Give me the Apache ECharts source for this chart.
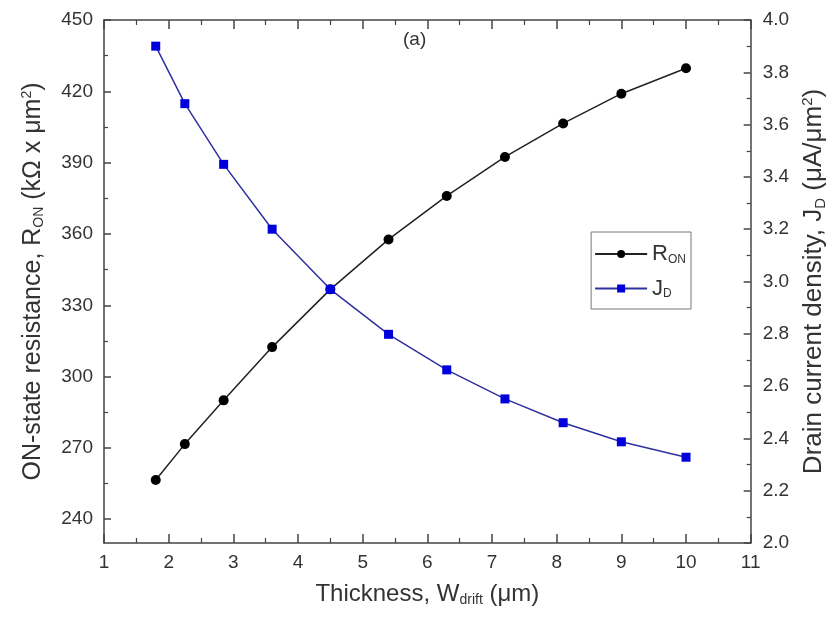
<!DOCTYPE html>
<html>
<head>
<meta charset="utf-8">
<script src="https://cdn.jsdelivr.net/npm/echarts@6/dist/echarts.min.js"></script>
<style>html,body{margin:0;padding:0;background:#fff;}#c{width:836px;height:619px;}</style>
</head>
<body>
<div id="c"></div>
<script>
var thickness = [1.8, 2.25, 2.85, 3.6, 4.5, 5.4, 6.3, 7.2, 8.1, 9.0, 10];
var ronValues = [256.5, 271.6, 290.0, 312.4, 336.7, 357.7, 376.0, 392.4, 406.5, 419.0, 429.7];
var jdValues = [3.90, 3.68, 3.448, 3.20, 2.97, 2.798, 2.662, 2.551, 2.46, 2.387, 2.328];
var leftLabels = [240, 270, 300, 330, 360, 390, 420, 450];
var leftMinorTicks = [255, 285, 315, 345, 375, 405, 435];

var FONT = 'Liberation Sans, Arial, sans-serif';
var AX = '#444';
var TXT = '#333';

var chart = echarts.init(document.getElementById('c'));
var ronData = thickness.map(function (x, i) { return [x, ronValues[i]]; });
var jdData = thickness.map(function (x, i) { return [x, jdValues[i]]; });

function sub(fs, pad) { return { fontSize: fs, fontFamily: FONT, color: TXT, verticalAlign: 'bottom', padding: [pad, 0, 0, 0] }; }
function sup(fs, pad) { return { fontSize: fs, fontFamily: FONT, color: TXT, verticalAlign: 'top', padding: [0, 0, pad, 0] }; }
function nm(fs) { return { fontSize: fs, fontFamily: FONT, color: TXT }; }

chart.setOption({
  animation: false,
  backgroundColor: '#fff',
  textStyle: { fontFamily: FONT },
  grid: { left: 104, right: 84, top: 20, bottom: 76, containLabel: false },
  graphic: [{
    type: 'text', left: 403, top: 30,
    style: { text: '(a)', fontSize: 19, fontFamily: FONT, fill: TXT }
  }],
  legend: {
    right: 145, top: 232,
    orient: 'vertical',
    itemWidth: 52, itemHeight: 10, itemGap: 12,
    borderColor: '#777', borderWidth: 1, padding: [11, 5, 9, 3],
    backgroundColor: '#fff',
    data: ['RON', 'JD'],
    formatter: function (n) { return n === 'RON' ? '{m|R}{s|ON}' : '{m|J}{s|D}'; },
    textStyle: {
      rich: {
        m: { fontSize: 22, fontFamily: FONT, color: TXT },
        s: { fontSize: 12, fontFamily: FONT, color: TXT, verticalAlign: 'bottom', padding: [11, 0, 0, 0] }
      }
    }
  },
  xAxis: [{
    type: 'value', min: 1, max: 11, interval: 1,
    name: '{n|Thickness, W}{s|drift}{n| (μm)}',
    nameLocation: 'middle', nameGap: 38,
    nameTextStyle: { rich: { n: nm(24), s: sub(14, 12) } },
    axisLine: { show: true, lineStyle: { color: AX, width: 1.5 } },
    axisTick: { show: true, inside: true, length: 9, lineStyle: { color: AX, width: 1.5 } },
    minorTick: { show: true, splitNumber: 2, length: 5, lineStyle: { color: AX, width: 1.2 } },
    axisLabel: { fontSize: 19, color: TXT, fontFamily: FONT, margin: 10 },
    splitLine: { show: false }
  }, {
    type: 'value', min: 1, max: 11, interval: 1, position: 'top',
    axisLine: { show: true, lineStyle: { color: AX, width: 1.5 } },
    axisTick: { show: true, inside: true, length: 9, lineStyle: { color: AX, width: 1.5 } },
    minorTick: { show: true, splitNumber: 2, length: 5, lineStyle: { color: AX, width: 1.2 } },
    axisLabel: { show: false },
    splitLine: { show: false }
  }],
  yAxis: [{
    type: 'value', min: 230, max: 450, position: 'left',
    name: '{n|ON-state resistance, R}{s|ON}{n| (kΩ x μm}{p|2}{n|)}',
    nameLocation: 'middle', nameGap: 58, nameRotate: 90,
    nameTextStyle: { rich: { n: nm(25), s: sub(14, 12), p: sup(14, 12) } },
    axisLine: { show: true, lineStyle: { color: AX, width: 1.5 } },
    axisTick: { show: true, inside: true, length: 7, customValues: leftLabels, lineStyle: { color: AX, width: 1.5 } },
    axisLabel: { fontSize: 19, color: TXT, fontFamily: FONT, margin: 11, customValues: leftLabels },
    splitLine: { show: false }
  }, {
    type: 'value', min: 2.0, max: 4.0, interval: 0.2, position: 'right',
    name: '{n|Drain current density, J}{s|D}{n| (μA/μm}{p|2}{n|)}',
    nameLocation: 'middle', nameGap: 49, nameRotate: 90,
    nameTextStyle: { rich: { n: nm(26), s: sub(15, 13), p: sup(15, 13) } },
    axisLine: { show: true, lineStyle: { color: AX, width: 1.5 } },
    axisTick: { show: true, inside: true, length: 7, lineStyle: { color: AX, width: 1.5 } },
    minorTick: { show: true, splitNumber: 2, length: 4, lineStyle: { color: AX, width: 1.2 } },
    axisLabel: { fontSize: 19, color: TXT, fontFamily: FONT, margin: 12, formatter: function (v) { return v.toFixed(1); } },
    splitLine: { show: false }
  }, {
    type: 'value', min: 230, max: 450, position: 'left',
    axisLine: { show: false },
    axisTick: { show: true, inside: true, length: 4, customValues: leftMinorTicks, lineStyle: { color: AX, width: 1.2 } },
    axisLabel: { show: false, customValues: leftMinorTicks },
    splitLine: { show: false }
  }],
  series: [{
    name: 'RON', type: 'line', xAxisIndex: 0, yAxisIndex: 0,
    data: ronData,
    symbol: 'circle', symbolSize: 10,
    lineStyle: { color: '#222', width: 1.5 },
    itemStyle: { color: '#000' }
  }, {
    name: 'JD', type: 'line', xAxisIndex: 0, yAxisIndex: 1,
    data: jdData,
    symbol: 'rect', symbolSize: 9,
    lineStyle: { color: '#3030a0', width: 1.5 },
    itemStyle: { color: '#0000dd' }
  }]
});
</script>
</body>
</html>
